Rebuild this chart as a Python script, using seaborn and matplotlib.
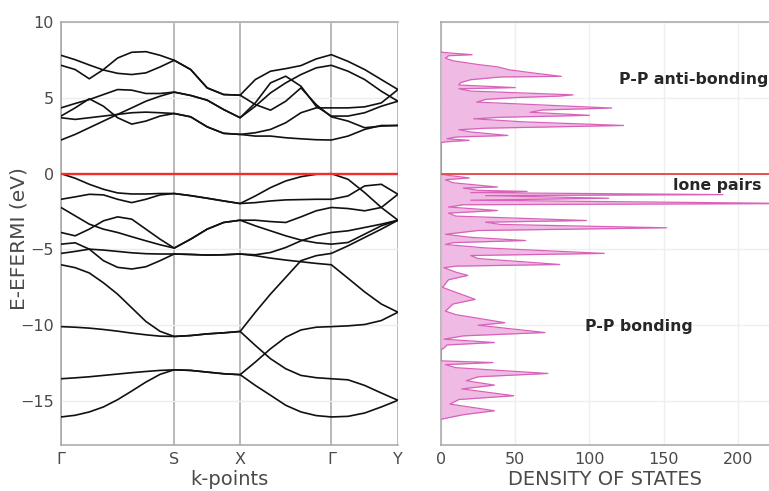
import numpy as np
import pandas as pd
import seaborn as sns
import matplotlib.pyplot as plt

# high-symmetry path Γ-S-X-Γ-Y (path length, arbitrary units)
kpoint_labels = ["Γ", "S", "X", "Γ", "Y"]
kpoint_pos = [0.0, 1.70, 2.69, 4.06, 5.06]
n_steps = [8, 4, 6, 4]  # readings per segment

# band energies (eV, relative to E_F) read along the path, 23 readings each
band_c1 = [7.81, 7.52, 7.17, 6.84, 6.62, 6.54, 6.65, 7.04, 7.48, 6.87, 5.66, 5.22, 5.18,
           6.21, 6.76, 6.93, 7.13, 7.57, 7.85, 7.41, 6.87, 6.21, 5.55]
band_c2 = [7.15, 6.87, 6.26, 6.87, 7.63, 8.01, 8.05, 7.81, 7.48, 6.87, 5.66, 5.22, 5.18,
           4.56, 4.19, 4.78, 5.66, 4.56, 3.75, 3.47, 3.03, 3.14, 3.18]
band_c3 = [4.34, 4.63, 4.89, 5.22, 5.55, 5.51, 5.29, 5.29, 5.38, 5.16, 4.85, 4.23, 3.69,
           4.45, 5.33, 5.99, 6.54, 6.98, 7.15, 6.76, 6.21, 5.44, 4.78]
band_c4 = [3.80, 4.34, 4.94, 4.45, 3.69, 3.27, 3.47, 3.80, 3.97, 3.75, 3.09, 2.66, 2.59,
           2.70, 2.92, 3.36, 4.02, 4.34, 4.34, 4.34, 4.41, 4.67, 5.55]
band_c5 = [3.69, 3.58, 3.69, 3.80, 3.91, 4.02, 4.06, 4.02, 3.97, 3.75, 3.09, 2.66, 2.59,
           2.48, 2.48, 2.37, 2.30, 2.24, 2.22, 2.48, 2.92, 3.18, 3.18]
band_c6 = [2.22, 2.59, 3.03, 3.47, 3.91, 4.34, 4.78, 5.11, 5.38, 5.16, 4.85, 4.23, 3.69,
           4.67, 5.99, 6.43, 5.77, 4.45, 3.80, 3.80, 4.02, 4.45, 4.78]

band_v1 = [0.00, -0.30, -0.70, -1.03, -1.27, -1.34, -1.34, -1.31, -1.31, -1.45, -1.62, -1.80, -1.97,
           -1.47, -0.92, -0.48, -0.20, -0.04, 0.00, -0.37, -1.25, -2.23, -3.07]
band_v2 = [-1.69, -1.53, -1.36, -1.40, -1.69, -1.91, -1.69, -1.40, -1.31, -1.45, -1.62, -1.80, -1.97,
           -1.91, -1.80, -1.73, -1.71, -1.69, -1.69, -1.47, -0.81, -0.70, -1.36]
band_v3 = [-2.23, -2.78, -3.33, -3.66, -3.88, -4.16, -4.43, -4.69, -4.91, -4.32, -3.66, -3.22, -3.07,
           -3.07, -3.16, -3.22, -2.85, -2.45, -2.23, -2.30, -2.45, -2.23, -1.36]
band_v4 = [-3.88, -4.10, -3.66, -3.11, -2.85, -3.00, -3.66, -4.32, -4.91, -4.32, -3.66, -3.22, -3.07,
           -3.44, -3.77, -4.10, -4.38, -4.56, -4.65, -4.54, -3.99, -3.44, -3.07]
band_v5 = [-4.65, -4.56, -4.98, -5.74, -6.18, -6.29, -6.14, -5.74, -5.30, -5.33, -5.37, -5.35, -5.30,
           -5.35, -5.20, -4.87, -4.43, -4.10, -3.88, -3.77, -3.55, -3.33, -3.07]
band_v6 = [-5.26, -5.13, -4.98, -5.04, -5.13, -5.22, -5.28, -5.30, -5.30, -5.33, -5.37, -5.35, -5.30,
           -5.41, -5.57, -5.70, -5.81, -5.92, -6.01, -6.90, -7.80, -8.60, -9.14]
band_v7 = [-6.01, -6.20, -6.55, -7.20, -7.95, -8.85, -9.75, -10.40, -10.74, -10.68, -10.57, -10.50, -10.41,
           -9.14, -7.94, -6.84, -5.74, -5.41, -5.26, -4.76, -4.21, -3.66, -3.07]
band_v8 = [-10.09, -10.13, -10.19, -10.28, -10.39, -10.52, -10.63, -10.72, -10.74, -10.68, -10.57, -10.50, -10.41,
           -11.33, -12.21, -12.87, -13.31, -13.46, -13.53, -13.60, -13.97, -14.47, -14.95]
band_v9 = [-13.53, -13.47, -13.40, -13.31, -13.22, -13.13, -13.05, -12.98, -12.94, -12.98, -13.09, -13.20, -13.26,
           -12.43, -11.55, -10.79, -10.31, -10.13, -10.09, -10.04, -9.95, -9.69, -9.14]
band_v10 = [-16.05, -15.94, -15.72, -15.39, -14.91, -14.34, -13.75, -13.24, -12.94, -12.98, -13.09, -13.20, -13.26,
            -13.97, -14.62, -15.28, -15.72, -15.96, -16.05, -16.01, -15.79, -15.39, -14.95]

# density of states, read from top to bottom (energy in eV, states)
dos_energy = [8.02, 7.96, 7.85, 7.78, 7.62, 7.45, 7.20, 7.05, 6.85, 6.62, 6.42, 6.38, 6.20, 6.00,
              5.85, 5.68, 5.60, 5.45, 5.20, 5.12, 5.02, 4.90, 4.72, 4.55, 4.33, 4.20, 4.05, 3.85,
              3.72, 3.62, 3.42, 3.18, 3.00, 2.90, 2.75, 2.52, 2.42, 2.30, 2.20, 2.10, 2.05,
              -0.05, -0.15, -0.28, -0.40, -0.60, -0.88, -0.95, -1.10, -1.17, -1.25, -1.38, -1.45,
              -1.62, -1.75, -1.97, -2.05, -2.20, -2.43, -2.60, -2.80, -3.09, -3.20, -3.35, -3.57,
              -3.75, -4.00, -4.20, -4.41, -4.55, -4.67, -4.90, -5.26, -5.40, -5.60, -5.99, -6.10,
              -6.20, -6.50, -6.71, -7.00, -7.50, -7.90, -8.29, -8.60, -9.07, -9.30, -9.83, -10.00,
              -10.48, -10.70, -10.92, -11.14, -11.30, -11.50, -11.60, -12.35, -12.46, -12.60, -12.80,
              -13.18, -13.40, -13.66, -13.95, -14.20, -14.65, -14.90, -15.20, -15.64, -15.90, -16.20]
dos_value = [0, 6, 21, 5, 3, 8, 25, 38, 46, 64, 81, 40, 20, 13,
             12, 50, 12, 20, 89, 80, 50, 30, 24, 64, 115, 68, 60, 100,
             40, 22, 55, 123, 30, 12, 20, 45, 10, 4, 19, 3, 0,
             0, 8, 19, 3, 8, 38, 15, 25, 58, 20, 190, 30,
             113, 20, 240, 15, 5, 38, 5, 10, 98, 30, 40, 152,
             25, 3, 20, 57, 8, 3, 30, 110, 20, 25, 80, 10,
             2, 10, 18, 5, 1, 12, 23, 8, 3, 10, 43, 25,
             70, 15, 2, 36, 4, 2, 0, 0, 35, 3, 10,
             72, 25, 17, 36, 14, 49, 12, 6, 36, 15, 0]

dos_ticks = [0, 50, 100, 150, 200]
energy_ticks = [-15, -10, -5, 0, 5, 10]

# build the path coordinate for every reading
k = [kpoint_pos[0]]
for seg, n in enumerate(n_steps):
    k.extend(np.linspace(kpoint_pos[seg], kpoint_pos[seg + 1], n + 1)[1:])

bands = [band_c1, band_c2, band_c3, band_c4, band_c5, band_c6,
         band_v1, band_v2, band_v3, band_v4, band_v5, band_v6, band_v7, band_v8, band_v9, band_v10]
rows = []
for i, b in enumerate(bands):
    for kk, e in zip(k, b):
        rows.append((i, kk, e))
df_bands = pd.DataFrame(rows, columns=["band", "k", "energy"])
df_dos = pd.DataFrame({"energy": dos_energy, "dos": dos_value})

sns.set_theme(style="white")
plt.rcParams['font.family'] = ['DejaVu Sans']

label_color = "#4a4a4a"
frame_color = "#a6a6a6"

fig = plt.figure(figsize=(7.69, 4.91), dpi=100)
ax_band = fig.add_axes([0.0793, 0.0937, 0.4382, 0.8613])
ax_dos = fig.add_axes([0.5735, 0.0937, 0.4265, 0.8613])

# band structure
sns.lineplot(data=df_bands, x="k", y="energy", units="band", estimator=None, sort=False,
             color="#111111", lw=1.2, ax=ax_band, zorder=4)
ax_band.axhline(0, color="#ef2f2f", lw=1.7, zorder=5)
ax_band.set_xlim(kpoint_pos[0], kpoint_pos[-1])
ax_band.set_ylim(-17.9, 10)
ax_band.set_xticks(kpoint_pos)
ax_band.set_xticklabels(kpoint_labels)
ax_band.set_yticks(energy_ticks)
ax_band.grid(axis="y", color="#ececec", lw=1)
ax_band.grid(axis="x", color=frame_color, lw=1.1)
ax_band.set_axisbelow(True)
ax_band.set_xlabel("k-points", fontsize=14, color=label_color, labelpad=2)
ax_band.set_ylabel("E-EFERMI (eV)", fontsize=14.5, color=label_color)
ax_band.yaxis.set_label_coords(-0.095, 0.488)

# density of states
ax_dos.fill_betweenx(df_dos["energy"], 0, df_dos["dos"], color="#eeb3e2", alpha=0.9, lw=0, zorder=3)
sns.lineplot(data=df_dos, x="dos", y="energy", sort=False, estimator=None,
             color="#d862b9", lw=0.9, ax=ax_dos, zorder=4)
ax_dos.axhline(0, color="#e55050", lw=1.4, zorder=5)
ax_dos.set_xlim(0, 221)
ax_dos.set_ylim(-17.9, 10)
ax_dos.set_xticks(dos_ticks)
ax_dos.set_yticks(energy_ticks)
ax_dos.grid(True, color="#efefef", lw=1)
ax_dos.set_axisbelow(True)
ax_dos.tick_params(labelleft=False)
ax_dos.set_xlabel("DENSITY OF STATES", fontsize=14, color=label_color, labelpad=2)
ax_dos.set_ylabel("")

ax_dos.text(170, 6.2, "P-P anti-bonding", fontsize=11.3, fontweight="bold", ha="center", va="center")
ax_dos.text(186, -0.8, "lone pairs", fontsize=11.3, fontweight="bold", ha="center", va="center")
ax_dos.text(133, -10.05, "P-P bonding", fontsize=11.3, fontweight="bold", ha="center", va="center")

for ax in (ax_band, ax_dos):
    ax.tick_params(length=0, labelsize=11.5, labelcolor=label_color, pad=5)
    for side in ("left", "bottom", "top"):
        ax.spines[side].set_color(frame_color)
        ax.spines[side].set_linewidth(1.1)
    ax.spines["right"].set_visible(False)

fig.savefig("out.png", dpi=100)
